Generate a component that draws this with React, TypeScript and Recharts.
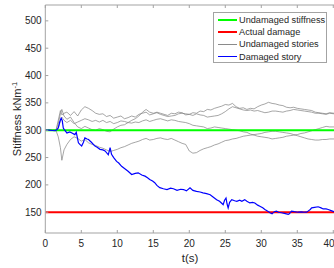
import { LineChart, Line, XAxis, YAxis } from "recharts";

// time grid shared by the undamaged story estimates
const storyTime = [
  0, 1.5, 1.8, 2.1, 2.3, 2.6, 3, 3.5, 4, 4.5, 5, 5.5, 6, 6.5, 7, 7.5, 8, 8.5, 9, 9.5, 10,
  10.5, 11, 11.5, 12, 12.5, 13, 13.5, 14, 14.5, 15, 15.5, 16, 16.5, 17, 17.5, 18, 18.5, 19, 19.5, 20,
  20.5, 21, 21.5, 22, 22.5, 23, 23.5, 24, 24.5, 25, 25.5, 26, 26.5, 27, 27.5, 28, 28.5, 29, 29.5, 30,
  30.5, 31, 31.5, 32, 32.5, 33, 33.5, 34, 34.5, 35, 35.5, 36, 36.5, 37, 37.5, 38, 38.5, 39, 39.5, 40.1,
];
const storyA = [
  300, 301, 318, 336, 328, 331, 333, 327, 334, 326, 337, 343, 340, 336, 331, 329, 330, 325, 327, 322, 324,
  326, 321, 323, 326, 324, 329, 331, 333, 328, 330, 333, 331, 329, 327, 331, 330, 333, 332, 328, 329,
  332, 331, 335, 334, 338, 337, 340, 342, 344, 347, 346, 349, 343, 340, 341, 338, 340, 339, 343, 346,
  348, 351, 349, 348, 346, 345, 342, 341, 342, 340, 339, 338, 337, 336, 333, 332, 331, 330, 332, 331,
];
const storyB = [
  300, 300, 312, 330, 338, 326, 320, 324, 314, 306, 303, 307, 304, 301, 300, 303, 301, 298, 297, 302, 306,
  309, 310, 314, 318, 321, 326, 333, 338, 333, 331, 332, 329, 327, 325, 326, 327, 330, 331, 330, 329,
  327, 330, 328, 327, 324, 325, 326, 327, 330, 334, 339, 343, 341, 339, 337, 336, 337, 335, 336, 334,
  332, 333, 335, 335, 334, 333, 335, 336, 338, 337, 336, 335, 334, 333, 331, 331, 330, 329, 331, 330,
];
const storyC = [
  300, 300, 305, 316, 324, 318, 314, 318, 312, 315, 318, 321, 319, 316, 318, 315, 318, 314, 316, 312, 314,
  317, 316, 314, 313, 315, 314, 317, 319, 316, 318, 320, 321, 319, 317, 319, 318, 316, 315, 314, 312,
  309, 308, 307, 306, 303, 304, 306, 305, 304, 303, 302, 301, 300, 299, 297, 296, 293, 291, 289, 288,
  287, 286, 284, 285, 286, 287, 289, 290, 291, 292, 294, 295, 297, 299, 301, 303, 305, 307, 306, 306,
];
const storyD = [
  300, 299, 288, 268, 245, 264, 274, 283, 288, 285, 280, 283, 277, 274, 272, 269, 267, 264, 261, 263, 265,
  268, 270, 273, 276, 278, 280, 283, 285, 282, 283, 285, 286, 284, 283, 285, 282, 279, 276, 274, 262,
  258, 259, 263, 266, 268, 270, 273, 275, 278, 281, 282, 284, 285, 287, 289, 290, 291, 292, 293, 294,
  296, 297, 298, 298, 297, 296, 295, 294, 292, 290, 288, 286, 284, 283, 282, 282, 283, 283, 284, 284,
];

// damaged story estimate
const damagedTime = [
  0, 0.5, 1, 1.35, 1.6, 1.8, 2.0, 2.2, 2.35, 2.5, 2.7, 3.0, 3.4, 3.7, 4.1, 4.3, 4.6, 4.8, 5.05, 5.3,
  5.5, 5.8, 6.0, 6.4, 6.9, 7.2, 7.6, 8.0, 8.3, 8.75, 9.0, 9.2, 9.5, 9.9, 10.2, 10.6, 11.0, 11.5, 12.0, 12.5,
  12.9, 13.4, 13.85, 14.2, 14.5, 14.9, 15.2, 15.5, 15.9, 16.4, 16.9, 17.4, 17.8, 18.3, 18.8, 19.2, 19.6, 20.1, 20.5, 21.0,
  21.5, 21.9, 22.4, 22.9, 23.3, 23.8, 24.2, 24.7, 24.9, 25.1, 25.25, 25.4, 25.6, 25.9, 26.3, 26.6, 27.0, 27.3, 27.7, 28.0,
  28.4, 28.8, 29.1, 29.5, 29.8, 30.2, 30.5, 30.9, 31.2, 31.5, 31.8, 32.1, 32.4, 32.8, 33.2, 33.75, 33.9, 34.2, 34.6, 35.1,
  35.6, 36.0, 36.3, 36.5, 36.8, 37.0, 37.4, 37.9, 38.3, 38.6, 39.0, 39.3, 39.7, 40.1,
];
const damagedStiffness = [
  300, 300, 299.5, 299, 301, 304, 315, 322, 318, 304, 300, 295, 297, 295, 292, 296, 277, 274, 271, 278,
  286, 284, 283, 278, 271, 269, 265, 264, 262, 255, 268, 256, 250, 243, 240, 234, 230, 225, 219, 221,
  222, 218, 216, 213, 210, 207, 204, 199, 195, 193, 191.5, 194, 193, 190, 192, 191.5, 189, 194.5, 190, 188,
  187, 185.5, 184, 182, 178, 173, 170, 164, 172, 176, 165, 158, 168, 173, 171, 170, 172, 170, 173, 170,
  167, 168, 167, 163, 161, 158, 155, 152, 149, 147, 151, 152, 150, 149, 148, 146, 147, 152, 151, 150,
  150.5, 150, 150, 152, 155, 158, 159, 160, 158, 156, 156, 155, 153, 151,
];

const refTime = [0, 40.1];
const undamagedStiffness = [300, 300];
const actualDamage = [150, 150];

const xTicks = [0, 5, 10, 15, 20, 25, 30, 35, 40];
const yTicks = [150, 200, 250, 300, 350, 400, 450, 500];

const legendItems = [
  { name: "Undamaged stiffness", color: "#00ff00", width: 2 },
  { name: "Actual damage", color: "#ff0000", width: 2 },
  { name: "Undamaged stories", color: "#8a8a8a", width: 1 },
  { name: "Damaged story", color: "#0000ff", width: 1.5 },
];

const zip = (ts: number[], vs: number[]) => ts.map((t, i) => ({ t, v: vs[i] }));

const FONT = "'Liberation Sans', Arial, sans-serif";
const AXIS = "#a3a3a3";
const TEXT = "#262626";

const stories = [storyA, storyB, storyC, storyD];

export default function App() {
  return (
    <div style={{ position: "absolute", left: 0, top: 0, width: 334, height: 268, fontFamily: FONT }}>
      <LineChart width={334} height={268} margin={{ top: 0, right: 0, bottom: 0, left: 0 }}>
        <XAxis
          xAxisId="b"
          dataKey="t"
          type="number"
          domain={[0, 40.1]}
          allowDataOverflow
          ticks={xTicks}
          height={35}
          tickSize={-3}
          tickMargin={10}
          stroke={AXIS}
          tick={{ fill: TEXT, fontSize: 10, fontFamily: FONT }}
          label={{
            content: () => (
              <text x={190} y={262} textAnchor="middle" fill={TEXT} fontSize={11.5} fontFamily={FONT}>
                t(s)
              </text>
            ),
          }}
        />
        <XAxis
          xAxisId="top"
          orientation="top"
          dataKey="t"
          type="number"
          domain={[0, 40.1]}
          allowDataOverflow
          ticks={xTicks}
          height={5}
          tickSize={-3}
          stroke={AXIS}
          tickFormatter={() => ""}
        />
        <YAxis
          yAxisId="l"
          type="number"
          domain={[112, 529]}
          allowDataOverflow
          ticks={yTicks}
          width={45.3}
          tickSize={-3}
          tickMargin={6.6}
          stroke={AXIS}
          tick={{ fill: TEXT, fontSize: 10, fontFamily: FONT }}
          label={{
            content: () => (
              <text
                x={20.5}
                y={119}
                transform="rotate(-90 20.5 119)"
                textAnchor="middle"
                fill={TEXT}
                fontSize={11}
                fontFamily={FONT}
              >
                Stiffness kNm
                <tspan fontSize={7.5} dy={-4}>
                  -1
                </tspan>
              </text>
            ),
          }}
        />
        <YAxis
          yAxisId="r"
          orientation="right"
          type="number"
          domain={[112, 529]}
          allowDataOverflow
          ticks={yTicks}
          width={0}
          tickSize={-3}
          stroke={AXIS}
          tickFormatter={() => ""}
        />
        {stories.map((s, i) => (
          <Line
            key={i}
            xAxisId="b"
            yAxisId="l"
            data={zip(storyTime, s)}
            dataKey="v"
            stroke="#808080"
            strokeWidth={0.7}
            dot={false}
            isAnimationActive={false}
          />
        ))}
        <Line
          xAxisId="b"
          yAxisId="l"
          data={zip(refTime, undamagedStiffness)}
          dataKey="v"
          stroke="#00ff00"
          strokeWidth={2}
          dot={false}
          isAnimationActive={false}
        />
        <Line
          xAxisId="b"
          yAxisId="l"
          data={zip(refTime, actualDamage)}
          dataKey="v"
          stroke="#ff0000"
          strokeWidth={2}
          dot={false}
          isAnimationActive={false}
        />
        <Line
          xAxisId="b"
          yAxisId="l"
          data={zip(damagedTime, damagedStiffness)}
          dataKey="v"
          stroke="#0000ff"
          strokeWidth={1.2}
          dot={false}
          isAnimationActive={false}
        />
      </LineChart>
      <div
        style={{
          position: "absolute",
          left: 213,
          top: 12,
          width: 114,
          height: 51,
          boxSizing: "border-box",
          border: `1px solid ${AXIS}`,
          background: "#fff",
          paddingTop: 1,
        }}
      >
        {legendItems.map((it) => (
          <div key={it.name} style={{ display: "flex", alignItems: "center", height: 12.2 }}>
            <div style={{ width: 19, marginLeft: 4, height: it.width, background: it.color }} />
            <span style={{ marginLeft: 2, fontSize: 9.2, color: TEXT, whiteSpace: "nowrap", lineHeight: "12px" }}>
              {it.name}
            </span>
          </div>
        ))}
      </div>
    </div>
  );
}
